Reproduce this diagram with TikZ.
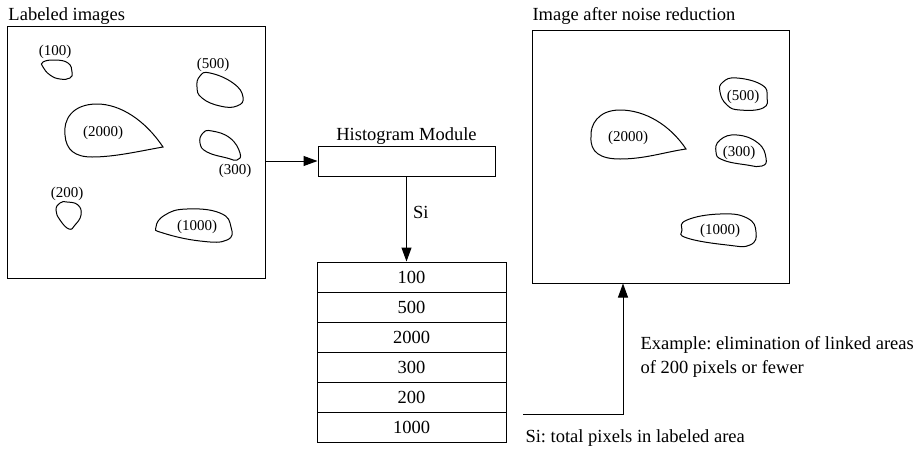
\documentclass[tikz,border=0pt]{standalone}
\usepackage{fontspec}
\setmainfont{Liberation Serif}
\usetikzlibrary{arrows.meta,positioning}
\frenchspacing

\begin{document}
\begin{tikzpicture}[x=1pt, y=-1pt, line width=1pt,
    every node/.style={font=\fontsize{18.5}{22}\selectfont, inner sep=0pt},
    area/.style={font=\fontsize{15}{18}\selectfont},
    cell/.style={draw, minimum width=189pt, minimum height=30pt},
    arr/.style={-{Triangle[length=14pt,width=10pt]}}]
      \useasboundingbox (0,0) rectangle (923,453);

      % Labeled image
      \node[anchor=base west] (ltitle) at (8,20) {Labeled images};
      \node[draw, minimum width=258pt, minimum height=252pt] (limg) at (136,152) {};

      % Areas in the labeled image
      \draw plot[smooth cycle, tension=0.8] coordinates {(43,62) (55,60) (68,63) (72,72) (70,78) (60,79) (50,75) (43,67)};
      \node[area] (l100) at (55,52) {(100)};
      \draw plot[smooth cycle, tension=0.8] coordinates {(210,73) (233,83) (243,97) (237,106) (220,106) (202,98) (197,87) (200,76)};
      \node[area] (l500) at (213,65) {(500)};
      \draw (163,147) .. controls (145,120) and (120,104) .. (97,104)
            .. controls (72,104) and (63,120) .. (65,135)
            .. controls (66,150) and (75,157) .. (92,157)
            .. controls (115,157) and (140,151) .. (163,147) -- cycle;
      \node[area] (l2000) at (103,133) {(2000)};
      \draw plot[smooth cycle, tension=0.8] coordinates {(212,131) (230,138) (240,153) (237,160) (227,158) (207,152) (200,143) (203,133)};
      \node[area] (l300) at (235,171) {(300)};
      \draw plot[smooth cycle, tension=0.8] coordinates {(67,202) (78,205) (81,215) (75,225) (69,229) (60,220) (56,210) (60,203)};
      \node[area] (l200) at (67,194) {(200)};
      \draw plot[smooth cycle, tension=0.8] coordinates {(187,209) (220,213) (231,227) (227,240) (200,241) (163,233) (156,227) (165,215)};
      \node[area] (l1000) at (197,227) {(1000)};

      % Histogram module
      \node[draw, minimum width=177pt, minimum height=30pt] (hist) at (406.5,161) {};
      \node[anchor=base] (htitle) at (406.5,140) {Histogram Module};

      % Table of area sizes
      \foreach \v [count=\i] in {100,500,2000,300,200,1000}
        \node[cell] (row\i) at (411.5,247+30*\i) {\v};

      % Image after noise reduction
      \node[anchor=base west] (rtitle) at (532,20) {Image after noise reduction};
      \node[draw, minimum width=257pt, minimum height=253pt] (rimg) at (660.5,156.5) {};

      % Remaining areas
      \draw plot[smooth cycle, tension=0.8] coordinates {(737,78) (762,85) (767,97) (763,108) (740,110) (727,105) (720,92) (723,82)};
      \node[area] (r500) at (743,97) {(500)};
      \draw (686,149) .. controls (670,125) and (645,110) .. (620,110)
            .. controls (598,110) and (590,125) .. (591,137)
            .. controls (590,152) and (600,159) .. (620,159)
            .. controls (645,159) and (665,152) .. (686,149) -- cycle;
      \node[area] (r2000) at (628,138) {(2000)};
      \draw plot[smooth cycle, tension=0.8] coordinates {(737,135) (758,143) (766,158) (762,166) (747,165) (723,160) (716,152) (720,140)};
      \node[area] (r300) at (739,153) {(300)};
      \draw plot[smooth cycle, tension=0.8] coordinates {(720,214) (747,218) (756,232) (750,245) (727,245) (687,238) (682,230) (687,220)};
      \node[area] (r1000) at (720,231) {(1000)};

      % Arrows
      \coordinate (feed) at (523,414);
      \coordinate (turn) at (623,414);
      \draw[arr] (limg.east |- hist.west) -- (hist.west);
      \draw[arr] (hist.south) -- node[right=6pt, pos=0.42] (si) {Si} (hist.south |- row1.north);
      \draw[arr] (feed) -- (turn) -- (turn |- rimg.south);

      % Notes
      \node[anchor=base west] (ex1) at (640,349) {Example: elimination of linked areas};
      \node[anchor=base west] (ex2) at (640,373) {of 200 pixels or fewer};
      \node[anchor=base west] (note) at (525,442) {Si: total pixels in labeled area};
    \end{tikzpicture}
\end{document}
